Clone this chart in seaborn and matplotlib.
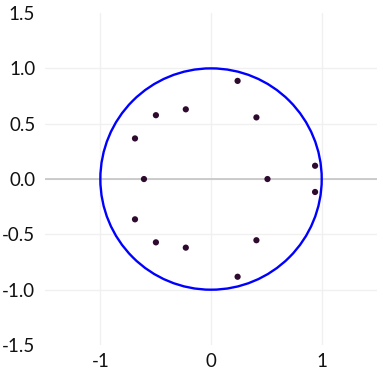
import numpy as np
import pandas as pd
import matplotlib
matplotlib.use('Agg')
import matplotlib.pyplot as plt
from matplotlib.patches import Circle
import seaborn as sns

# roots (real, imag)
re_vals = [-0.606, 0.51, -0.687, -0.687, -0.498, -0.498, -0.228, -0.228,
           0.24, 0.24, 0.41, 0.41, 0.94, 0.94]
im_vals = [0.0, 0.0, 0.367, -0.364, 0.577, -0.572, 0.63, -0.62,
           0.887, -0.883, 0.557, -0.553, 0.12, -0.117]
x_ticks = [-1, 0, 1]
y_ticks = [-1.5, -1.0, -0.5, 0.0, 0.5, 1.0, 1.5]

df = pd.DataFrame({'Real': re_vals, 'Imag': im_vals})

sns.set_style('white')
plt.rcParams['font.family'] = ['Lato', 'DejaVu Sans']

fig = plt.figure(figsize=(3.83, 3.73), dpi=100)
ax = fig.add_axes([0.1175, 0.075, 0.867, 0.89])

ax.set_xlim(-1.5, 1.5)
ax.set_ylim(-1.5, 1.5)
ax.set_xticks(x_ticks)
ax.set_xticklabels([str(t) for t in x_ticks])
ax.set_yticks(y_ticks)
ax.set_yticklabels([f'{t:.1f}' for t in y_ticks])
ax.grid(True, color='#f0f0f0', linewidth=1)
# no grid line along the plot edges at +-1.5
for gl, t in zip(ax.get_ygridlines(), y_ticks):
    if abs(t) == 1.5:
        gl.set_visible(False)
ax.axhline(0, color='#c4c4c4', linewidth=1.2, zorder=1)
for s in ax.spines.values():
    s.set_visible(False)
ax.tick_params(length=0, labelsize=13.5, colors='#111111')
ax.tick_params(axis='y', pad=7)
ax.tick_params(axis='x', pad=6)

ax.add_patch(Circle((0, 0), 1, fill=False, edgecolor='#0000ff', linewidth=1.7, zorder=2))
sns.scatterplot(data=df, x='Real', y='Imag', ax=ax, color='#2e0a2e', s=20,
                edgecolor='none', zorder=3)
ax.set_xlabel('')
ax.set_ylabel('')

fig.savefig('out.png', dpi=100)
